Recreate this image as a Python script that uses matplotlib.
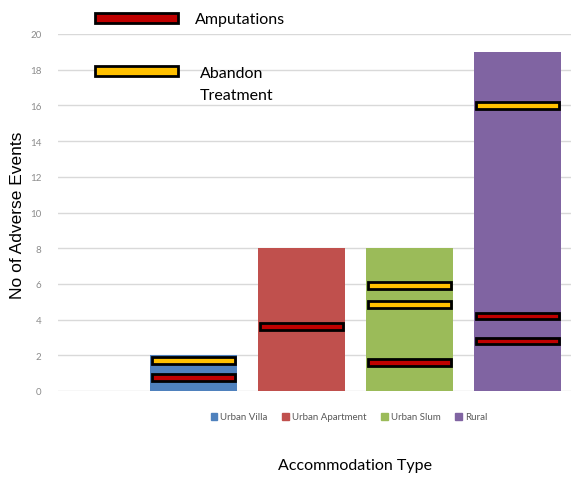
import matplotlib.pyplot as plt
from matplotlib.patches import Rectangle, Patch

# bar heights per accommodation type
categories = ['Urban Villa', 'Urban Apartment', 'Urban Slum', 'Rural']
events = [2, 8, 8, 19]
bar_colors = ['#4F81BD', '#C0504D', '#9BBB59', '#8064A2']

# individual event markers drawn across each bar
amputations = [[0.75], [3.6], [1.6], [4.2, 2.8]]
abandon_treatment = [[1.7], [], [5.9, 4.85], [16.0]]

plt.rcParams['font.family'] = ['Lato', 'DejaVu Sans']

fig = plt.figure(figsize=(5.71, 4.81), dpi=100)
ax = fig.add_axes([58 / 571, 89 / 481, 513 / 571, 357 / 481])

# first slot is left empty, bars sit in slots 1..4
xs = list(range(1, len(categories) + 1))
ax.bar(xs, events, width=0.8, color=bar_colors, zorder=2)

mark_w = 0.77
mark_h = 0.38


def draw_marks(values, color):
    for x, vals in zip(xs, values):
        for v in vals:
            ax.bar(x, mark_h, bottom=v - mark_h / 2, width=mark_w, color=color,
                   edgecolor='black', linewidth=2, zorder=3)


draw_marks(amputations, '#C00000')
draw_marks(abandon_treatment, '#FFC000')

ax.set_xlim(-0.255, 4.495)
ax.set_ylim(0, 20)
ax.set_yticks(range(0, 21, 2))
ax.set_xticks([])
ax.yaxis.grid(True, color='#D9D9D9', linewidth=1, zorder=0)
ax.set_axisbelow(True)
for s in ax.spines.values():
    s.set_visible(False)
ax.tick_params(axis='y', length=0, labelsize=7, labelcolor='#8C8C8C', pad=12)

fig.text(18 / 571, 1 - 215 / 481, 'No of Adverse Events', rotation=90,
         ha='center', va='center', fontsize=12.5, family='Liberation Sans')
fig.text(355 / 571, 1 - 466 / 481, 'Accommodation Type', ha='center',
         va='center', fontsize=11.5)

# key for the marker colours at the top left
for yc, color in [(19, '#C00000'), (72, '#FFC000')]:
    fig.add_artist(Rectangle((95 / 571, 1 - (yc + 5) / 481), 83 / 571, 10 / 481,
                             facecolor=color, edgecolor='black', linewidth=2,
                             transform=fig.transFigure))
fig.text(195 / 571, 1 - 20 / 481, 'Amputations', ha='left', va='center', fontsize=11.5)
fig.text(200 / 571, 1 - 85 / 481, 'Abandon\nTreatment', ha='left', va='center',
         fontsize=11.5, linespacing=1.75)

handles = [Patch(color=c, label=n) for c, n in zip(bar_colors, categories)]
leg = fig.legend(handles=handles, loc='center', bbox_to_anchor=(349 / 571, 1 - 418 / 481),
                 ncol=4, frameon=False, fontsize=7, handlelength=0.7, handleheight=0.7,
                 handletextpad=0.3, columnspacing=1.5)
for t in leg.get_texts():
    t.set_color('#595959')

fig.savefig('out.png', dpi=100)
